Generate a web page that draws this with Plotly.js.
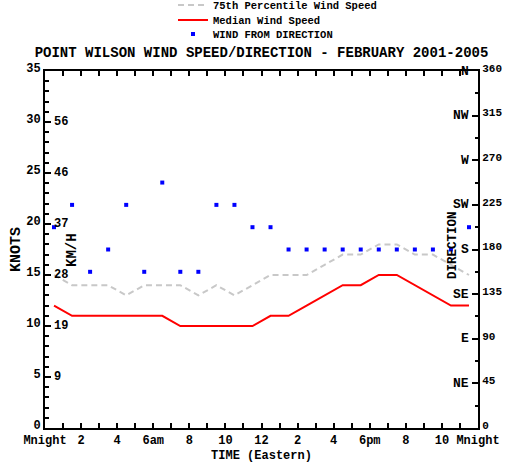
<!DOCTYPE html>
<html>
<head>
<meta charset="utf-8">
<script src="https://cdn.plot.ly/plotly-3.0.1.min.js"></script>
<style>html,body{margin:0;padding:0;background:#fff;}#chart{width:505px;height:463px;}</style>
</head>
<body>
<div id="chart"></div>
<script>
// Hour of day (Eastern), half-hour centres
const hours = [0.5,1.5,2.5,3.5,4.5,5.5,6.5,7.5,8.5,9.5,10.5,11.5,12.5,13.5,14.5,15.5,16.5,17.5,18.5,19.5,20.5,21.5,22.5,23.5];
// 75th percentile wind speed (knots)
const p75Speed = [15,14,14,14,13,14,14,14,13,14,13,14,15,15,15,16,17,17,18,18,17,17,16,15];
// Median wind speed (knots)
const medianSpeed = [12,11,11,11,11,11,11,10,10,10,10,10,11,11,12,13,14,14,15,15,14,13,12,12];
// Wind from direction (degrees)
const direction = [202.5,225,157.5,180,225,157.5,247.5,157.5,157.5,225,225,202.5,202.5,180,180,180,180,180,180,180,180,180,180,202.5];

// Tick labels
const hourTicks = [0,1,2,3,4,5,6,7,8,9,10,11,12,13,14,15,16,17,18,19,20,21,22,23,24];
const hourLabels = ['Mnight','','2','','4','','6am','','8','','10','','12','','2','','4','','6pm','','8','','10','','Mnight'];
const knotTicks = [0,5,10,15,20,25,30,35];
const kmhKnots = [5,10,15,20,25,30];
const dirTicks = [0,45,90,135,180,225,270,315,360];
const compassDeg = [45,90,135,180,225,270,315,360];
const compassNames = ['NE','E','SE','S','SW','W','NW','N'];

const FONT = 'Liberation Mono, Courier New, monospace';
const W = 505, H = 463;
const L = 45, R = 27, T = 71, B = 35;
const pw = W - L - R, ph = H - T - B;
const px = v => (v - L) / pw;
const py = v => 1 - (v - T) / ph;

const traces = [
  {x: hours, y: p75Speed, type: 'scatter', mode: 'lines', name: '75th Percentile Wind Speed',
   line: {color: '#c8c8c8', width: 2, dash: '6px,4px'}, legend: 'legend'},
  {x: hours, y: medianSpeed, type: 'scatter', mode: 'lines', name: 'Median Wind Speed',
   line: {color: '#ff0000', width: 2}, legend: 'legend2'},
  {x: hours, y: direction, type: 'scatter', mode: 'markers', name: 'WIND FROM DIRECTION', yaxis: 'y2',
   marker: {color: '#0000ff', size: 4, symbol: 'square'}, legend: 'legend3'}
];

const legFont = {family: FONT, size: 10.5, color: '#000', weight: 'bold'};
const legBase = {xref: 'paper', x: px(173), xanchor: 'left', yref: 'paper', yanchor: 'middle',
  bgcolor: 'rgba(0,0,0,0)', borderwidth: 0, font: legFont, itemwidth: 30, orientation: 'v'};

const annotations = [];
kmhKnots.forEach(k => annotations.push({xref: 'paper', x: px(52), xanchor: 'left', yref: 'y', y: k,
  yanchor: 'middle', text: String(Math.round(k * 1.852)), showarrow: false,
  font: {family: FONT, size: 12, color: '#000', weight: 'bold'}}));
compassDeg.forEach((d, i) => annotations.push({xref: 'paper', x: px(471), xanchor: 'right', yref: 'y2', y: d,
  yanchor: 'middle', text: compassNames[i], showarrow: false,
  font: {family: FONT, size: 13, color: '#000', weight: 'bold'}}));
annotations.push({xref: 'paper', x: px(72), xanchor: 'center', yref: 'paper', y: py(250), yanchor: 'middle',
  text: 'KM/H', textangle: -90, showarrow: false, font: {family: FONT, size: 14, color: '#000', weight: 'bold'}});
annotations.push({xref: 'paper', x: px(453), xanchor: 'center', yref: 'paper', y: py(245), yanchor: 'middle',
  text: 'DIRECTION', textangle: -90, showarrow: false, font: {family: FONT, size: 12.5, color: '#000', weight: 'bold'}});

const tickFont = {family: FONT, size: 12, color: '#000', weight: 'bold'};
const layout = {
  width: W, height: H,
  margin: {l: L, r: R, t: T, b: B, pad: 0, autoexpand: false},
  paper_bgcolor: '#fff', plot_bgcolor: '#fff',
  title: {text: 'POINT WILSON WIND SPEED/DIRECTION - FEBRUARY 2001-2005', x: 0.5, xref: 'paper', xanchor: 'center',
    y: 1 - 52 / H, yref: 'container', yanchor: 'middle',
    font: {family: FONT, size: 14, color: '#000', weight: 'bold'}},
  xaxis: {range: [0, 24], tickmode: 'array', tickvals: hourTicks, ticktext: hourLabels,
    ticks: 'inside', ticklen: 5, tickwidth: 2, tickcolor: '#000', showline: true, linewidth: 2, linecolor: '#000',
    mirror: 'ticks', showgrid: false, zeroline: false, tickfont: tickFont, tickangle: 0,
    title: {text: 'TIME (Eastern)', font: {family: FONT, size: 12, color: '#000', weight: 'bold'}, standoff: 4}},
  yaxis: {range: [0, 35], tickmode: 'array', tickvals: knotTicks, ticks: 'inside', ticklen: 6, tickwidth: 2,
    tickcolor: '#000', showline: true, linewidth: 2, linecolor: '#000', showgrid: false, zeroline: false,
    minor: {dtick: 1, tick0: 0, ticks: 'inside', ticklen: 4, tickwidth: 2, tickcolor: '#000', showgrid: false},
    tickfont: tickFont, ticklabelshift: -3,
    title: {text: 'KNOTS', font: {family: FONT, size: 15, color: '#000', weight: 'bold'}, standoff: 2}},
  yaxis2: {range: [0, 360], overlaying: 'y', side: 'right', tickmode: 'array', tickvals: dirTicks,
    ticks: 'inside', ticklen: 6, tickwidth: 2, tickcolor: '#000', showline: true, linewidth: 2, linecolor: '#000',
    showgrid: false, zeroline: false, ticklabelshift: -3,
    minor: {dtick: 22.5, tick0: 0, ticks: 'inside', ticklen: 3, tickwidth: 2, tickcolor: '#000', showgrid: false},
    tickfont: {family: FONT, size: 11, color: '#000', weight: 'bold'}},
  legend: Object.assign({}, legBase, {y: py(5)}),
  legend2: Object.assign({}, legBase, {y: py(20)}),
  legend3: Object.assign({}, legBase, {y: py(34)}),
  annotations: annotations,
  showlegend: true
};

Plotly.newPlot('chart', traces, layout, {staticPlot: true, displayModeBar: false});
</script>
</body>
</html>
